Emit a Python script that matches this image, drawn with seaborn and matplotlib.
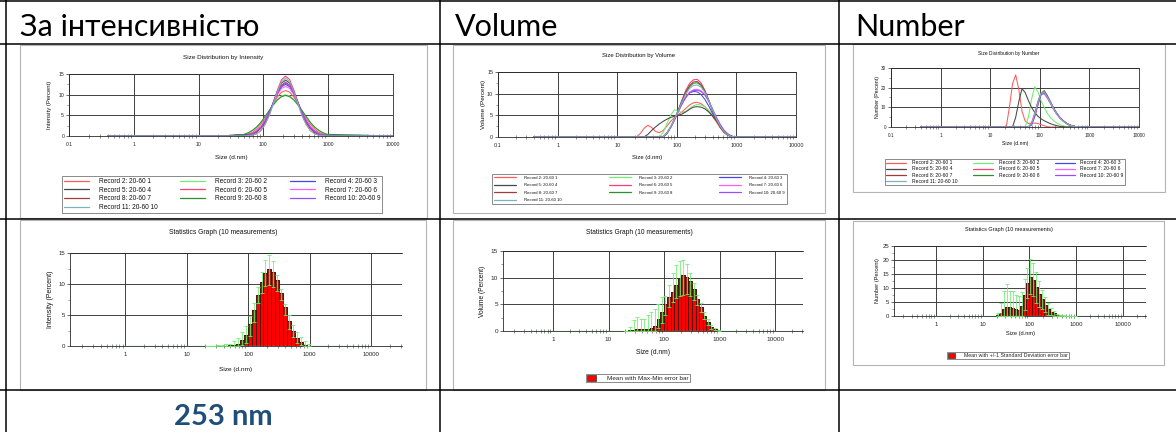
import numpy as np
import pandas as pd
import matplotlib
matplotlib.use("Agg")
import matplotlib.pyplot as plt
import seaborn as sns
from matplotlib.lines import Line2D
from matplotlib.patches import Rectangle, Patch
from matplotlib.ticker import LogLocator, MultipleLocator, NullFormatter

sns.set_theme(style="white")
plt.rcParams["font.family"] = ["Liberation Sans", "DejaVu Sans"]

W, H, DPI = 1176, 432, 100

# ------------------------------------------------------------------ data
HEADERS = ["За інтенсивністю", "Volume", "Number"]
RESULT_TEXT = "253 nm"
TOP_TITLES = ["Size Distribution by Intensity", "Size Distribution by Volume",
              "Size Distribution by Number"]
STAT_TITLE = "Statistics Graph (10 measurements)"
Y_LABELS = ["Intensity (Percent)", "Volume (Percent)", "Number (Percent)"]
X_LABEL = "Size (d.nm)"
TOP_XTICKS = [0.1, 1, 10, 100, 1000, 10000]
TOP_XTICKLABELS = ["0.1", "1", "10", "100", "1000", "10000"]
STAT_XTICKS = [1, 10, 100, 1000, 10000]
STAT_XTICKLABELS = ["1", "10", "100", "1000", "10000"]
TOP_YTICKS = [[0, 5, 10, 15], [0, 5, 10, 15], [0, 10, 20, 30]]
STAT_YTICKS = [[0, 5, 10, 15], [0, 5, 10, 15], [0, 5, 10, 15, 20, 25]]
STAT_LEGENDS = [None, "Mean with Max-Min error bar",
                "Mean with +/-1 Standard Deviation error bar"]

RECORDS = ["Record 2: 20-60 1", "Record 3: 20-60 2", "Record 4: 20-60 3",
           "Record 5: 20-60 4", "Record 6: 20-60 5", "Record 7: 20-60 6",
           "Record 8: 20-60 7", "Record 9: 20-60 8", "Record 10: 20-60 9",
           "Record 11: 20-60 10"]
PALETTE = ["#ff5a5a", "#70ee70", "#4646e6", "#474747", "#ff3f72",
           "#ff5cff", "#a33a3a", "#2f8f2f", "#9a4cff", "#7fb2b8"]

# size classes (d.nm)
SIZES = [21.0, 24.4, 28.2, 32.7, 37.8, 43.8, 50.7, 58.8, 68.1, 78.8, 91.3,
         105.7, 122.4, 141.8, 164.2, 190.1, 220.2, 255.0, 295.3, 342.0,
         396.1, 458.7, 531.2, 615.1, 712.4, 825.0, 955.4]
SIZE_RANGE = [0.4, 10000]
BIN_RATIO = 1.1581

# Intensity distributions (%)
INT_R2 = [0, 0, 0, 0, 0.1, 0.1, 0.2, 0.5, 0.9, 1.7, 2.8, 4.2, 6.0, 7.8, 9.4, 10.6, 11.0, 10.6, 9.4, 7.8, 6.0, 4.2, 2.8, 1.7, 0.9, 0.5, 0.2]
INT_R3 = [0, 0, 0, 0.1, 0.1, 0.2, 0.4, 0.8, 1.3, 2.1, 3.2, 4.6, 6.0, 7.5, 8.8, 9.7, 10.0, 9.7, 8.8, 7.5, 6.0, 4.6, 3.2, 2.1, 1.3, 0.8, 0.4]
INT_R4 = [0, 0, 0, 0, 0, 0.1, 0.1, 0.2, 0.6, 1.2, 2.1, 3.6, 5.6, 7.9, 10.2, 11.9, 12.5, 11.9, 10.2, 7.9, 5.6, 3.6, 2.1, 1.2, 0.6, 0.2, 0.1]
INT_R5 = [0, 0, 0.1, 0.2, 0.3, 0.3, 0.3, 0.4, 0.6, 1.0, 1.9, 3.3, 5.5, 8.1, 10.8, 12.8, 13.5, 12.8, 10.8, 8.1, 5.5, 3.3, 1.8, 0.9, 0.4, 0.1, 0]
INT_R6 = [0, 0, 0, 0, 0, 0, 0, 0.1, 0.2, 0.6, 1.3, 2.8, 5.0, 8.0, 11.1, 13.6, 14.5, 13.6, 11.1, 8.0, 5.0, 2.8, 1.3, 0.6, 0.2, 0.1, 0]
INT_R7 = [0, 0, 0, 0, 0, 0.1, 0.1, 0.3, 0.6, 1.3, 2.3, 3.8, 5.7, 7.9, 10.0, 11.5, 12.0, 11.5, 10.0, 7.9, 5.7, 3.8, 2.3, 1.3, 0.6, 0.3, 0.1]
INT_R8 = [0, 0, 0, 0, 0.1, 0.1, 0.1, 0.2, 0.4, 1.0, 1.9, 3.4, 5.5, 8.0, 10.5, 12.3, 13.0, 12.3, 10.5, 8.0, 5.5, 3.4, 1.9, 1.0, 0.4, 0.2, 0.1]
INT_R9 = [0, 0, 0, 0.1, 0.2, 0.3, 0.4, 0.8, 1.4, 2.2, 3.3, 4.7, 6.1, 7.5, 8.7, 9.5, 9.8, 9.5, 8.7, 7.5, 6.1, 4.7, 3.3, 2.2, 1.4, 0.8, 0.4]
INT_R10 = [0, 0, 0, 0, 0, 0.1, 0.1, 0.2, 0.5, 1.1, 2.0, 3.5, 5.5, 8.0, 10.4, 12.1, 12.8, 12.1, 10.4, 8.0, 5.5, 3.5, 2.0, 1.1, 0.5, 0.2, 0.1]
INT_R11 = [0, 0, 0, 0, 0, 0, 0, 0.1, 0.2, 0.5, 1.3, 2.7, 4.8, 7.7, 10.7, 13.1, 14.0, 13.1, 10.7, 7.7, 4.8, 2.7, 1.3, 0.5, 0.2, 0.1, 0]

# Volume distributions (%)
VOL_R2 = [0, 0.8, 2.0, 2.7, 2.2, 1.3, 1.0, 1.5, 2.5, 3.6, 4.5, 5.2, 5.8, 6.6, 7.4, 7.9, 8.0, 7.7, 7.0, 6.0, 4.8, 3.5, 2.2, 1.2, 0.5, 0.1, 0]
VOL_R3 = [0, 0, 0, 0, 0, 0, 0, 1.0, 3.0, 5.0, 6.3, 6.0, 5.6, 5.9, 6.6, 7.2, 7.5, 7.4, 7.0, 6.2, 5.2, 4.0, 2.8, 1.6, 0.7, 0.2, 0]
VOL_R4 = [0, 0, 0, 0, 0, 0, 0, 0, 0.9, 2.3, 4.0, 5.9, 7.7, 9.2, 10.2, 10.5, 10.4, 9.8, 8.7, 7.2, 5.5, 3.9, 2.5, 1.3, 0.6, 0.2, 0]
VOL_R5 = [0, 0, 0, 0.6, 1.5, 2.3, 3.0, 3.6, 4.1, 4.5, 4.8, 5.0, 5.3, 5.8, 6.4, 6.9, 7.0, 6.9, 6.5, 5.8, 4.9, 3.8, 2.6, 1.5, 0.7, 0.2, 0]
VOL_R6 = [0, 0, 0, 0, 0, 0, 0, 0, 0.8, 2.2, 4.0, 6.2, 8.6, 10.8, 12.4, 13.2, 13.3, 12.5, 10.8, 8.6, 6.2, 4.0, 2.3, 1.1, 0.4, 0.1, 0]
VOL_R7 = [0, 0, 0, 0, 0, 0, 0, 0, 0.9, 2.3, 4.0, 5.9, 7.7, 9.3, 10.4, 10.9, 11.0, 10.7, 9.8, 8.3, 6.5, 4.6, 2.9, 1.6, 0.7, 0.2, 0]
VOL_R8 = [0, 0, 0, 0, 0, 0, 0, 0, 0.8, 2.2, 4.0, 6.1, 8.4, 10.4, 11.9, 12.7, 12.8, 12.1, 10.6, 8.5, 6.2, 4.0, 2.3, 1.1, 0.4, 0.1, 0]
VOL_R9 = [0, 0, 0, 0, 0, 0, 0, 0, 0.9, 2.3, 4.1, 6.1, 8.3, 10.2, 11.6, 12.4, 12.5, 11.9, 10.5, 8.5, 6.3, 4.2, 2.5, 1.2, 0.5, 0.1, 0]
VOL_R10 = [0, 0, 0, 0, 0, 0, 0, 0, 0.8, 2.2, 3.9, 5.8, 7.6, 9.1, 10.2, 10.7, 10.8, 10.5, 9.7, 8.3, 6.5, 4.6, 3.0, 1.6, 0.7, 0.2, 0]
VOL_R11 = [0, 0, 0, 0, 0, 0, 0, 0, 0.9, 2.3, 4.1, 6.0, 8.1, 9.9, 11.2, 11.9, 12.0, 11.5, 10.3, 8.5, 6.4, 4.3, 2.6, 1.3, 0.5, 0.1, 0]

# Number distributions (%)
NUM_R2 = [0, 10, 22, 26.5, 19, 8, 3, 1.8, 2.0, 2.0, 1.8, 1.2, 0.6, 0.2, 0, 0, 0, 0, 0, 0, 0, 0, 0, 0, 0, 0, 0]
NUM_R3 = [0, 0, 0, 0, 0, 0, 0, 5, 14, 20.5, 18, 13.5, 10, 7, 4.8, 3.2, 2.0, 1.2, 0.6, 0.2, 0, 0, 0, 0, 0, 0, 0]
NUM_R4 = [0, 0, 0, 0, 0, 0, 0, 0, 1.5, 6, 12, 16.5, 17.0, 14.8, 12.0, 9.2, 6.7, 4.7, 3.2, 2.0, 1.1, 0.6, 0.2, 0, 0, 0, 0]
NUM_R5 = [0, 0, 0, 5, 13, 19.5, 17.5, 13.5, 10, 7.5, 5.5, 4.2, 3.2, 2.4, 1.7, 1.1, 0.7, 0.3, 0.1, 0, 0, 0, 0, 0, 0, 0, 0]
NUM_R6 = [0, 0, 0, 0, 0, 0, 0, 0, 2, 7, 13, 17.3, 17.5, 15.0, 12.0, 9.0, 6.5, 4.5, 3.0, 1.8, 1.0, 0.5, 0.2, 0, 0, 0, 0]
NUM_R7 = [0, 0, 0, 0, 0, 0, 0, 0, 1.6, 6.3, 12.4, 16.8, 17.2, 15.0, 12.1, 9.2, 6.7, 4.7, 3.1, 1.9, 1.0, 0.5, 0.2, 0, 0, 0, 0]
NUM_R8 = [0, 0, 0, 0, 0, 0, 0, 0, 1.2, 5.5, 11.5, 16.8, 18.5, 16.0, 12.8, 9.6, 6.9, 4.8, 3.2, 1.9, 1.0, 0.5, 0.2, 0, 0, 0, 0]
NUM_R9 = [0, 0, 0, 0, 0, 0, 0, 0, 1.5, 6, 12, 17, 18.2, 15.6, 12.4, 9.3, 6.7, 4.6, 3.1, 1.9, 1.0, 0.5, 0.2, 0, 0, 0, 0]
NUM_R10 = [0, 0, 0, 0, 0, 0, 0, 0, 1.0, 5.0, 11.0, 16.5, 17.5, 15.5, 12.6, 9.6, 7.0, 4.9, 3.3, 2.0, 1.1, 0.5, 0.2, 0, 0, 0, 0]
NUM_R11 = [0, 0, 0, 0, 0, 0, 0, 0, 1.8, 6.5, 12.5, 17.2, 17.8, 15.2, 12.2, 9.2, 6.6, 4.6, 3.0, 1.8, 1.0, 0.5, 0.2, 0, 0, 0, 0]

# Statistics graphs
IS_MEAN = [0, 0, 0, 0, 0, 0, 0.1, 0.2, 0.4, 0.9, 1.8, 3.5, 5.8, 8.3, 10.4, 11.8, 12.4, 12.0, 10.6, 8.6, 6.3, 4.1, 2.5, 1.3, 0.6, 0.2, 0.05]
IS_LO = [0, 0, 0, 0, 0, 0, 0, 0, 0, 0.2, 0.5, 1.6, 3.8, 7.0, 8.5, 9.7, 9.8, 9.5, 8.8, 7.5, 5.0, 2.8, 1.4, 0.5, 0.2, 0, 0]
IS_HI = [0, 0, 0, 0.1, 0.2, 0.3, 0.4, 0.8, 1.3, 2.2, 3.3, 4.8, 7.0, 9.5, 12.0, 13.8, 14.6, 13.7, 11.5, 9.2, 6.8, 5.0, 3.4, 2.3, 1.4, 0.8, 0.4]

VS_MEAN = [0, 0.1, 0.2, 0.3, 0.4, 0.4, 0.4, 0.6, 1.0, 2.2, 3.5, 5.0, 6.3, 7.4, 8.6, 9.9, 10.5, 10.2, 9.3, 7.8, 6.0, 4.5, 2.8, 1.6, 0.7, 0.3, 0.1]
VS_LO = [0, 0, 0, 0, 0, 0, 0, 0, 0, 0.5, 1.5, 3.0, 4.5, 5.5, 6.2, 6.6, 6.8, 6.9, 6.5, 5.8, 4.8, 3.5, 2.2, 1.1, 0.4, 0.1, 0]
VS_HI = [0, 0.8, 2.0, 2.7, 2.2, 2.3, 3.0, 3.6, 4.1, 5.0, 6.3, 6.5, 8.6, 10.8, 12.4, 13.2, 13.3, 12.5, 10.9, 9.0, 6.8, 5.3, 3.6, 2.3, 1.2, 0.6, 0.2]

NS_MEAN = [0.3, 1.2, 2.6, 3.2, 3.2, 2.8, 2.4, 2.2, 3.6, 7.6, 11.7, 14.0, 13.0, 10.2, 7.8, 5.9, 4.1, 2.6, 1.6, 0.9, 0.4, 0.2, 0.1, 0, 0, 0, 0]
NS_SD = [0.9, 3.4, 6.5, 8.3, 5.8, 6.2, 5.0, 4.8, 5.0, 5.6, 5.4, 6.3, 6.0, 5.6, 4.6, 3.4, 2.8, 2.2, 1.4, 0.8, 0.4, 0.2, 0.1, 0, 0, 0, 0]

TOP_SERIES = [
    [INT_R2, INT_R3, INT_R4, INT_R5, INT_R6, INT_R7, INT_R8, INT_R9, INT_R10, INT_R11],
    [VOL_R2, VOL_R3, VOL_R4, VOL_R5, VOL_R6, VOL_R7, VOL_R8, VOL_R9, VOL_R10, VOL_R11],
    [NUM_R2, NUM_R3, NUM_R4, NUM_R5, NUM_R6, NUM_R7, NUM_R8, NUM_R9, NUM_R10, NUM_R11],
]

# ------------------------------------------------------------------ layout (pixels / points)
TOP_FRAMES = [(20, 45, 427, 218), (453, 45, 825, 213), (853, 44, 1165, 192)]
TOP_AX = [(69, 74, 393, 136), (498, 72, 796, 137), (891, 68, 1139, 127)]
TOP_TITLE_Y = [57, 56, 53]
TOP_XLABEL_Y = [158, 157, 144]
TOP_LEG = [(62, 177, 382, 212), (492, 173, 787, 205), (885, 159, 1125, 185)]
TOP_TITLE_FS = [4.6, 4.3, 3.55]
TOP_TICK_FS = [3.7, 3.9, 3.4]
TOP_XLAB_FS = [4.6, 4.2, 3.7]
TOP_YLAB_FS = [4.2, 4.6, 3.8]
TOP_LEG_FS = [4.7, 3.1, 3.6]
TOP_LEG_SP = [0.26, 0.8, 0.23]
TOP_LEG_BP = [0.3, 0.5, 0.25]
TOP_LEG_HL = [3.8, 5.1, 4.0]
TOP_LEG_HTP = [1.5, 1.9, 1.1]
YLABEL_X = [50, 483, 878]

STAT_FRAMES = [(20, 220, 426, 390), (453, 220, 825, 390), (853, 221, 1164, 365)]
STAT_AX = [(70, 253, 402, 346), (503, 251, 803, 331), (894, 246, 1146, 316)]
STAT_TITLE_Y = [233, 232, 230]
STAT_XLABEL_Y = [369, 352, 334]
STAT_TITLE_FS = [4.85, 4.75, 3.95]
STAT_TICK_FS = [4.4, 4.6, 4.3]
STAT_XLAB_FS = [4.65, 4.8, 4.1]
STAT_YLAB_FS = [5.0, 4.8, 4.1]
STAT_LEG = [None, (638, 378), (1008, 355.5)]
STAT_LEG_FS = [None, 4.6, 3.8]
STAT_XLIM = (0.126, 31600)

fig = plt.figure(figsize=(W / DPI, H / DPI), dpi=DPI)
fig.patch.set_facecolor("white")


def fx(x):
    return x / W


def fy(y):
    return 1 - y / H


def add_px_axes(box):
    x0, y0, x1, y1 = box
    return fig.add_axes([fx(x0), fy(y1), (x1 - x0) / W, (y1 - y0) / H])


def frame(box, color="#b4b4b4", lw=0.8):
    x0, y0, x1, y1 = box
    fig.add_artist(Rectangle((fx(x0), fy(y1)), (x1 - x0) / W, (y1 - y0) / H,
                             transform=fig.transFigure, fill=False,
                             edgecolor=color, lw=lw))


def style(ax, xlim, xticks, xlabels, yticks, fs):
    ax.set_xscale("log")
    ax.set_xlim(*xlim)
    ax.set_ylim(yticks[0], yticks[-1])
    ax.set_xticks(xticks, xlabels)
    ax.set_yticks(yticks, [str(v) for v in yticks])
    ax.xaxis.set_minor_locator(LogLocator(base=10, subs=[2, 3, 4, 5, 6, 7, 8, 9], numticks=30))
    ax.xaxis.set_minor_formatter(NullFormatter())
    ax.yaxis.set_minor_locator(MultipleLocator((yticks[1] - yticks[0]) / 2))
    ax.grid(True, which="major", color="#333333", lw=0.65)
    ax.grid(False, which="minor")
    ax.set_axisbelow(True)
    ax.tick_params(axis="y", which="major", labelsize=fs, length=2, width=0.5,
                   color="#333333", pad=1.5, left=True)
    ax.tick_params(axis="x", which="major", labelsize=fs, length=0, pad=4, bottom=True)
    ax.tick_params(axis="x", which="minor", direction="inout", length=2.4,
                   width=0.45, color="#555555", bottom=True)
    ax.tick_params(axis="y", which="minor", direction="out", length=1.6,
                   width=0.45, color="#666666", left=True)
    ax.set_xlabel("")
    ax.set_ylabel("")
    ax.set_facecolor("white")
    for s in ax.spines.values():
        s.set_color("#2a2a2a")
        s.set_linewidth(0.6)


def chart_text(x, y, s, fs, **kw):
    fig.text(fx(x), fy(y), s, fontsize=fs, ha="center", va="center",
             color="#111111", **kw)


# ------------------------------------------------------------------ top row
LEG_ORDER = [0, 3, 6, 9, 1, 4, 7, 2, 5, 8]   # row-wise filling of 3 columns
for i in range(3):
    frame(TOP_FRAMES[i])
    ax = add_px_axes(TOP_AX[i])
    rows = []
    for name, vals in zip(RECORDS, TOP_SERIES[i]):
        xs = [SIZE_RANGE[0]] + SIZES + [SIZE_RANGE[1]]
        ys = [0] + list(vals) + [0]
        for xv, yv in zip(xs, ys):
            rows.append((name, xv, yv))
    df = pd.DataFrame(rows, columns=["record", "size", "value"])
    sns.lineplot(data=df, x="size", y="value", hue="record", hue_order=RECORDS,
                 palette=PALETTE, estimator=None, lw=0.75, ax=ax, legend=False)
    style(ax, (0.1, 10000), TOP_XTICKS, TOP_XTICKLABELS, TOP_YTICKS[i], TOP_TICK_FS[i])
    handles = [Line2D([], [], color=PALETTE[k], lw=0.9) for k in LEG_ORDER]
    labels = [RECORDS[k] for k in LEG_ORDER]
    x0, y0, x1, y1 = TOP_LEG[i]
    leg = ax.legend(handles, labels,
                    ncol=3, loc="center", mode="expand",
                    bbox_to_anchor=(fx(x0), fy(y1), (x1 - x0) / W, (y1 - y0) / H),
                    bbox_transform=fig.transFigure, fontsize=TOP_LEG_FS[i],
                    frameon=True, fancybox=False, edgecolor="#555555",
                    handlelength=TOP_LEG_HL[i], handletextpad=TOP_LEG_HTP[i],
                    labelspacing=TOP_LEG_SP[i], borderpad=TOP_LEG_BP[i],
                    borderaxespad=0, columnspacing=1.0)
    leg.get_frame().set_linewidth(0.6)
    for t in leg.get_texts():
        t.set_color("#111111")
    tx = (TOP_FRAMES[i][0] + TOP_FRAMES[i][2]) / 2
    chart_text(tx, TOP_TITLE_Y[i], TOP_TITLES[i], TOP_TITLE_FS[i])
    ax_cx = (TOP_AX[i][0] + TOP_AX[i][2]) / 2
    ax_cy = (TOP_AX[i][1] + TOP_AX[i][3]) / 2
    chart_text(ax_cx, TOP_XLABEL_Y[i], X_LABEL, TOP_XLAB_FS[i])
    chart_text(YLABEL_X[i], ax_cy, Y_LABELS[i], TOP_YLAB_FS[i], rotation=90)

# ------------------------------------------------------------------ statistics row
STATS = [(IS_MEAN, IS_LO, IS_HI, None), (VS_MEAN, VS_LO, VS_HI, None),
         (NS_MEAN, None, None, NS_SD)]
sizes = np.array(SIZES)
half = np.sqrt(BIN_RATIO)
for i in range(3):
    frame(STAT_FRAMES[i])
    ax = add_px_axes(STAT_AX[i])
    mean, lo, hi, sd = STATS[i]
    mean = np.array(mean, dtype=float)
    if sd is not None:
        sd = np.array(sd, dtype=float)
        lower = np.maximum(mean - sd, 0)
        upper = mean + sd
    else:
        lower = np.array(lo, dtype=float)
        upper = np.array(hi, dtype=float)
    left = sizes / half
    widths = sizes * half - left
    # bright red body of each bar
    ax.bar(left, mean, width=widths, align="edge", color="#ff0000",
           edgecolor="#3a0e06", lw=0.5, zorder=2)
    # darker upper part (between the lower error limit and the mean)
    ax.bar(left, mean - lower, bottom=lower, width=widths, align="edge",
           color="#8e2a12", edgecolor="#3a0e06", lw=0.5, zorder=2.5)
    ax.plot(SIZE_RANGE, [0, 0], color="#66f066", lw=0.9, zorder=3)
    ax.errorbar(sizes, mean, yerr=[mean - lower, upper - mean], fmt="none",
                ecolor="#6cf06c", elinewidth=0.55, capsize=1.7, capthick=0.6,
                zorder=4)
    style(ax, STAT_XLIM, STAT_XTICKS, STAT_XTICKLABELS, STAT_YTICKS[i], STAT_TICK_FS[i])
    ax.spines["right"].set_visible(False)
    tx = (STAT_FRAMES[i][0] + STAT_FRAMES[i][2]) / 2
    chart_text(tx, STAT_TITLE_Y[i], STAT_TITLE, STAT_TITLE_FS[i])
    ax_cx = (STAT_AX[i][0] + STAT_AX[i][2]) / 2
    ax_cy = (STAT_AX[i][1] + STAT_AX[i][3]) / 2
    chart_text(ax_cx, STAT_XLABEL_Y[i], X_LABEL, STAT_XLAB_FS[i])
    chart_text(YLABEL_X[i], ax_cy, Y_LABELS[i], STAT_YLAB_FS[i], rotation=90)
    if STAT_LEGENDS[i] is not None:
        lx, ly = STAT_LEG[i]
        leg = fig.legend([Patch(facecolor="#ff0000", edgecolor="#333333", lw=0.5)],
                         [STAT_LEGENDS[i]], loc="center",
                         bbox_to_anchor=(fx(lx), fy(ly)), fontsize=STAT_LEG_FS[i],
                         frameon=True, fancybox=False, edgecolor="#555555",
                         handlelength=1.3, handleheight=1.0, handletextpad=1.8,
                         borderpad=0.2)
        leg.get_frame().set_linewidth(0.6)

# ------------------------------------------------------------------ table
HEADER_X = [20, 455, 855]
for x, s in zip(HEADER_X, HEADERS):
    fig.text(fx(x), fy(36), s, fontsize=22, ha="left", va="baseline",
             color="black", family=["Lato", "DejaVu Sans"])
fig.text(fx(223), fy(425), RESULT_TEXT, fontsize=21, fontweight="bold",
         ha="center", va="baseline", color="#1f4e79", family=["Lato", "DejaVu Sans"])

for y in [1, 44, 219, 390]:
    fig.add_artist(Line2D([0, 1], [fy(y), fy(y)], transform=fig.transFigure,
                          color="black", lw=1.1))
for x in [6, 440, 839]:
    fig.add_artist(Line2D([fx(x), fx(x)], [0, 1], transform=fig.transFigure,
                          color="black", lw=1.1))

fig.savefig("out.png", dpi=DPI, facecolor="white")
